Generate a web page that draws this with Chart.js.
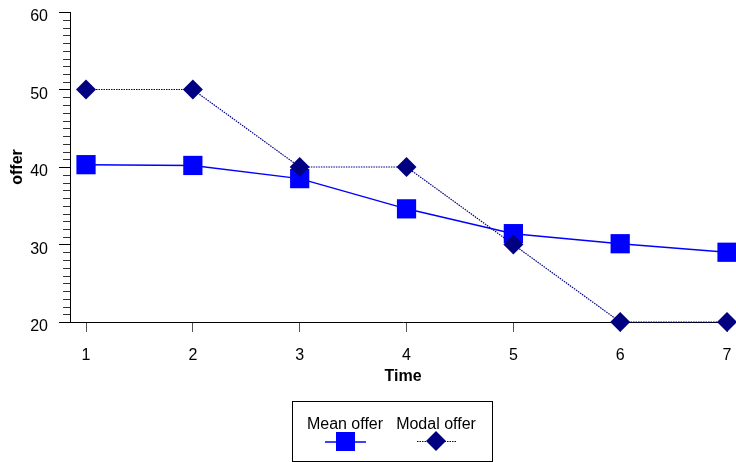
<!DOCTYPE html>
<html>
<head>
<meta charset="utf-8">
<script src="https://cdn.jsdelivr.net/npm/chart.js@4/dist/chart.umd.min.js"></script>
<style>
  html, body { margin: 0; padding: 0; background: #fff; }
  #wrap { width: 736px; height: 462px; position: relative; }
</style>
</head>
<body>
<div id="wrap"><canvas id="offerChart" width="736" height="462"></canvas></div>
<script>
// --- Data ---
const times = [1, 2, 3, 4, 5, 6, 7];
const meanOffer = [40.3, 40.2, 38.5, 34.6, 31.4, 30.1, 29.0];
const modalOffer = [50, 50, 40, 40, 30, 20, 20];
const yTicks = [20, 30, 40, 50, 60];
const seriesNames = ['Mean offer', 'Modal offer'];

const FONT = 'Arial, "Liberation Sans", sans-serif';
const MEAN_COLOR = '#0000ff';
const MODAL_COLOR = '#000080';

const toPoints = vals => times.map((t, i) => ({ x: t, y: vals[i] }));

/* ---------------------- minor ticks + boxed legend ---------------------- */
const extrasPlugin = {
  id: 'extras',
  afterDraw(chart) {
    const c = chart.ctx;
    const y = chart.scales.y;
    const left = chart.chartArea.left;

    // minor ticks every 1 unit on the y axis
    c.save();
    c.strokeStyle = '#333';
    c.lineWidth = 1;
    for (let v = yTicks[0]; v <= yTicks[yTicks.length - 1]; v++) {
      if (v % 10 === 0) continue;
      const py = Math.round(y.getPixelForValue(v)) + 0.5;
      c.beginPath();
      c.moveTo(left - 7, py);
      c.lineTo(left, py);
      c.stroke();
    }
    c.restore();

    // legend box
    c.save();
    c.strokeStyle = '#000';
    c.lineWidth = 1;
    c.strokeRect(292.5, 401.5, 200, 60);
    c.fillStyle = '#000';
    c.font = '16px ' + FONT;
    c.textAlign = 'center';
    c.textBaseline = 'alphabetic';
    c.fillText(seriesNames[0], 345, 429);
    c.fillText(seriesNames[1], 436, 429);

    // mean symbol
    c.strokeStyle = MEAN_COLOR;
    c.lineWidth = 1.5;
    c.beginPath();
    c.moveTo(325, 442);
    c.lineTo(366, 442);
    c.stroke();
    c.fillStyle = MEAN_COLOR;
    c.fillRect(336, 432, 19, 19);

    // modal symbol
    c.strokeStyle = MODAL_COLOR;
    c.lineWidth = 1;
    c.setLineDash([1.5, 1]);
    c.beginPath();
    c.moveTo(417, 441.5);
    c.lineTo(457, 441.5);
    c.stroke();
    c.setLineDash([]);
    c.fillStyle = MODAL_COLOR;
    c.beginPath();
    c.moveTo(436, 431);
    c.lineTo(446, 441);
    c.lineTo(436, 451);
    c.lineTo(426, 441);
    c.closePath();
    c.fill();
    c.restore();
  }
};

const ctx = document.getElementById('offerChart').getContext('2d');

new Chart(ctx, {
  type: 'line',
  data: {
    datasets: [
      {
        label: seriesNames[1],
        data: toPoints(modalOffer),
        borderColor: MODAL_COLOR,
        backgroundColor: MODAL_COLOR,
        borderWidth: 1.2,
        borderDash: [1.5, 1],
        pointStyle: 'rectRot',
        pointRadius: 10,
        pointBorderWidth: 0,
        pointHoverRadius: 10,
        tension: 0,
        clip: false
      },
      {
        label: seriesNames[0],
        data: toPoints(meanOffer),
        borderColor: MEAN_COLOR,
        backgroundColor: MEAN_COLOR,
        borderWidth: 1.5,
        pointStyle: 'rect',
        pointRadius: 13.6,
        pointBorderWidth: 0,
        pointHoverRadius: 13.6,
        tension: 0,
        clip: false
      }
    ]
  },
  options: {
    responsive: false,
    animation: false,
    events: [],
    layout: { autoPadding: false, padding: { top: 12, right: 0, bottom: 76, left: 0 } },
    plugins: {
      legend: { display: false },
      tooltip: { enabled: false }
    },
    scales: {
      x: {
        type: 'linear',
        min: 0.85,
        max: 7.084,
        afterBuildTicks: s => { s.ticks = times.map(v => ({ value: v })); },
        afterFit: s => { s.height = 64; s.paddingLeft = 0; s.paddingRight = 0; },
        grid: { drawOnChartArea: false, tickLength: 10, color: '#555' },
        border: { color: '#000', width: 1 },
        ticks: { color: '#000', font: { family: FONT, size: 16 }, padding: 14, maxRotation: 0 },
        title: { display: true, text: 'Time', color: '#000', font: { family: FONT, size: 16, weight: 'bold' }, padding: { top: 0, bottom: 0 } }
      },
      y: {
        min: 20,
        max: 60,
        afterBuildTicks: s => { s.ticks = yTicks.map(v => ({ value: v })); },
        afterFit: s => { s.width = 70; s.paddingTop = 0; s.paddingBottom = 0; },
        grid: { drawOnChartArea: false, tickLength: 11, color: '#000' },
        border: { color: '#000', width: 1 },
        ticks: { color: '#000', font: { family: FONT, size: 16 }, padding: 11, labelOffset: 5 },
        title: { display: true, text: 'offer', color: '#000', font: { family: FONT, size: 16, weight: 'bold' }, padding: { top: 8, bottom: 0 } }
      }
    }
  },
  plugins: [extrasPlugin]
});
</script>
</body>
</html>
